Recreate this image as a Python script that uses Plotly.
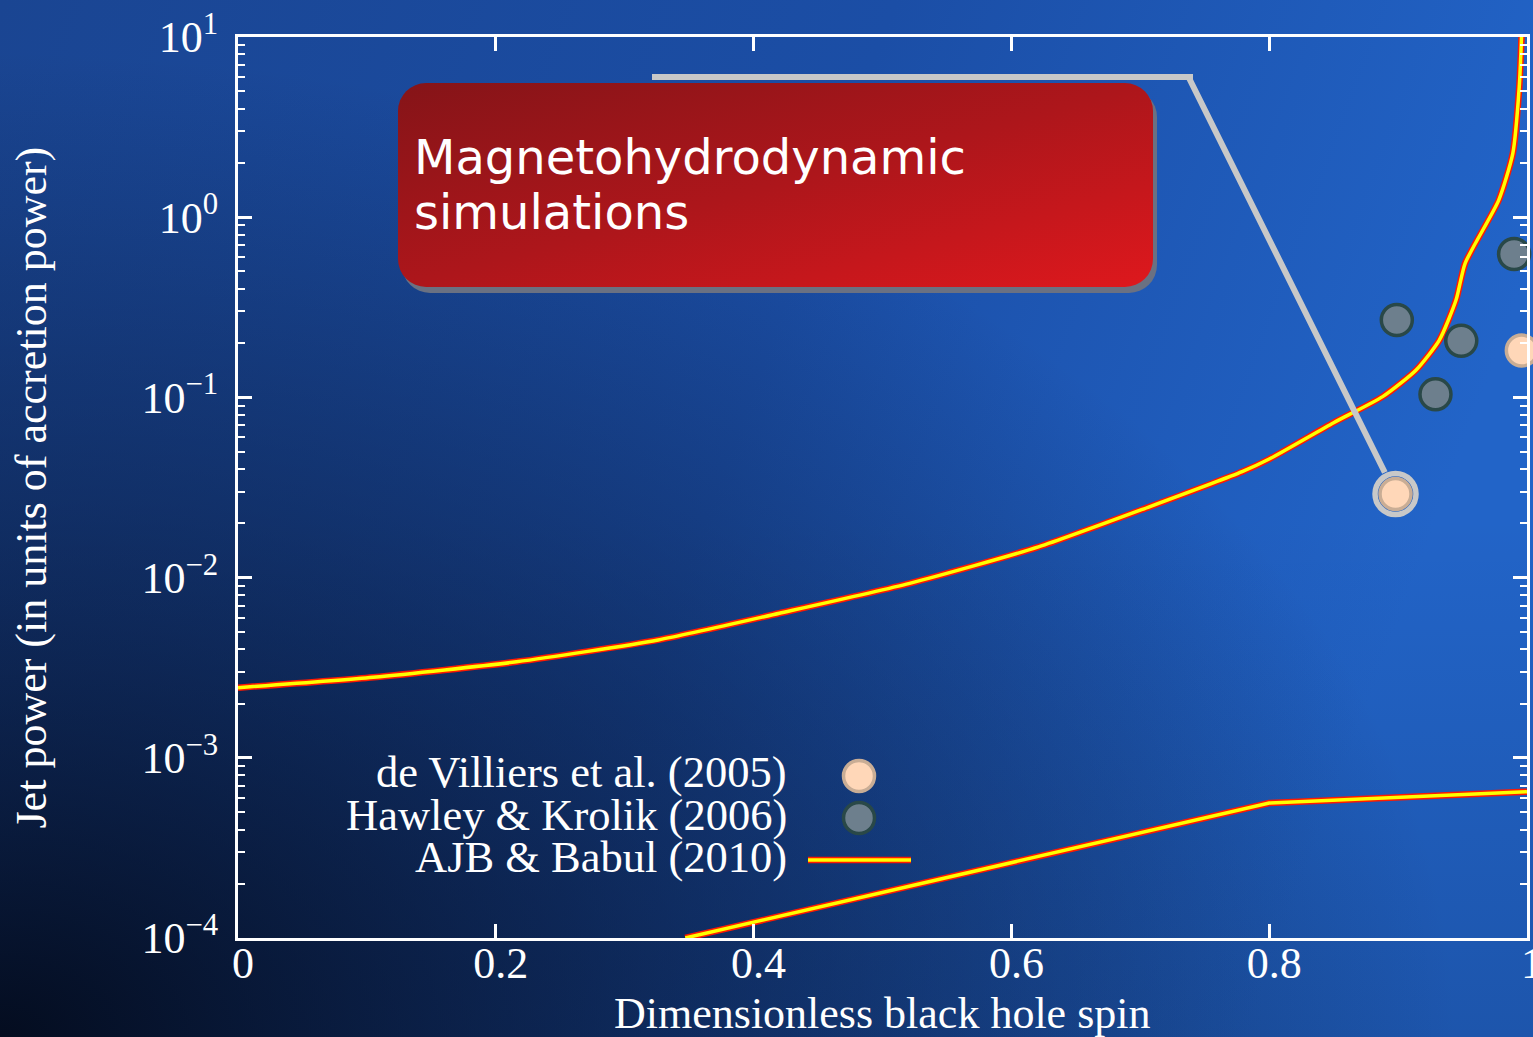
import base64
import math
import plotly.graph_objects as go

# ---- data -------------------------------------------------------------
# AJB & Babul (2010): upper branch
ajb_upper_spin = [0.000, 0.105, 0.216, 0.326, 0.420, 0.521, 0.621, 0.707, 0.779,
                  0.800, 0.850, 0.888, 0.914, 0.932, 0.945, 0.952, 0.978, 0.989,
                  0.994, 0.996]
ajb_upper_power = [0.00245, 0.00280, 0.00341, 0.00451, 0.00634, 0.00929, 0.0148,
                   0.0247, 0.0387, 0.0455, 0.0724, 0.101, 0.142, 0.208, 0.348,
                   0.555, 1.24, 2.26, 5.30, 11.2]
# AJB & Babul (2010): lower branch
ajb_lower_spin = [0.347, 0.800, 1.000]
ajb_lower_power = [1.0e-4, 5.61e-4, 6.49e-4]

# de Villiers et al. (2005)
dv_spin = [0.898, 0.996]
dv_power = [0.0291, 0.182]

# Hawley & Krolik (2006)
hk_spin = [0.899, 0.929, 0.949, 0.990]
hk_power = [0.269, 0.104, 0.206, 0.625]

x_ticks = [0, 0.2, 0.4, 0.6, 0.8, 1.0]
x_tick_text = ["0", "0.2", "0.4", "0.6", "0.8", "1"]
y_ticks = [1e-4, 1e-3, 1e-2, 1e-1, 1, 10]
y_tick_text = ["10<sup>\u22124</sup>", "10<sup>\u22123</sup>", "10<sup>\u22122</sup>",
               "10<sup>\u22121</sup>", "10<sup>0</sup>", "10<sup>1</sup>"]

legend_labels = ["de Villiers et al. (2005)", "Hawley & Krolik (2006)", "AJB & Babul (2010)"]
box_lines = ["Magnetohydrodynamic", "simulations"]

# ---- page geometry ----------------------------------------------------
W, H = 1533, 1037
ML, MR, MT, MB = 238, 6, 37, 99
PW, PH = W - ML - MR, H - MT - MB


def px(X):
    return (X - ML) / PW


def py(Y):
    return 1 - (Y - MT) / PH


def svg_uri(svg):
    return "data:image/svg+xml;base64," + base64.b64encode(svg.encode()).decode()


SERIF = "Liberation Serif, Times New Roman, serif"
SANS = "DejaVu Sans, Verdana, sans-serif"

bg_svg = f"""<svg xmlns='http://www.w3.org/2000/svg' width='{W}' height='{H}' viewBox='0 0 {W} {H}' preserveAspectRatio='none'>
<defs>
<linearGradient id='base' x1='0' y1='0' x2='1' y2='0.25'>
<stop offset='0' stop-color='#1a4592'/>
<stop offset='0.55' stop-color='#1b4ea6'/>
<stop offset='1' stop-color='#2264c8'/>
</linearGradient>
<linearGradient id='low' x1='0' y1='0' x2='0' y2='1'>
<stop offset='0.5' stop-color='#06122c' stop-opacity='0'/>
<stop offset='1' stop-color='#06122c' stop-opacity='0.18'/>
</linearGradient>
<radialGradient id='shade' cx='0' cy='1' r='0.95'>
<stop offset='0' stop-color='#030a1a' stop-opacity='0.95'/>
<stop offset='0.45' stop-color='#06122c' stop-opacity='0.55'/>
<stop offset='1' stop-color='#06122c' stop-opacity='0'/>
</radialGradient>
</defs>
<rect width='{W}' height='{H}' fill='url(#base)'/>
<rect width='{W}' height='{H}' fill='url(#low)'/>
<rect width='{W}' height='{H}' fill='url(#shade)'/>
</svg>"""

# rounded red label box with drop shadow
BX0, BY0, BW, BH = 396, 80, 766, 216
box_svg = f"""<svg xmlns='http://www.w3.org/2000/svg' width='{BW}' height='{BH}' viewBox='0 0 {BW} {BH}'>
<defs>
<linearGradient id='red' x1='0' y1='0' x2='1' y2='1'>
<stop offset='0' stop-color='#851418'/>
<stop offset='0.5' stop-color='#ad161b'/>
<stop offset='1' stop-color='#de181d'/>
</linearGradient>
</defs>
<rect x='6' y='9' width='755' height='204' rx='28' ry='28' fill='#6a7182'/>
<rect x='2' y='3' width='755' height='204' rx='28' ry='28' fill='url(#red)'/>
</svg>"""

fig = go.Figure()

# yellow line with a red rim: red underlay, yellow core
branches = [(ajb_upper_spin, ajb_upper_power, "spline"),
            (ajb_lower_spin, ajb_lower_power, "linear")]
for xs, ys, shape in branches:
    fig.add_trace(go.Scatter(x=xs, y=ys, mode="lines",
                             line=dict(color="#ff1a00", width=6.5, shape=shape, smoothing=0.6),
                             hoverinfo="skip"))
    fig.add_trace(go.Scatter(x=xs, y=ys, mode="lines",
                             line=dict(color="#ffff00", width=3.5, shape=shape, smoothing=0.6),
                             name=legend_labels[2]))

# highlight ring around the first de Villiers point
fig.add_trace(go.Scatter(x=dv_spin[:1], y=dv_power[:1], mode="markers", cliponaxis=False,
                         marker=dict(symbol="circle-open", size=41, color="#c8c8c8",
                                     line=dict(width=5.5)), hoverinfo="skip"))

fig.add_trace(go.Scatter(x=hk_spin, y=hk_power, mode="markers", cliponaxis=False,
                         name=legend_labels[1],
                         marker=dict(size=31, color="#6d7f8d",
                                     line=dict(color="#294848", width=3.5))))
fig.add_trace(go.Scatter(x=dv_spin, y=dv_power, mode="markers", cliponaxis=False,
                         name=legend_labels[0],
                         marker=dict(size=31, color="#ffd7b8",
                                     line=dict(color="#c9ad95", width=3.5))))

axis_common = dict(
    showline=True, linewidth=3, linecolor="white", mirror="allticks",
    ticks="inside", ticklen=14, tickwidth=2.5, tickcolor="white",
    showgrid=False, zeroline=False, automargin=False,
    tickfont=dict(family=SERIF, size=44, color="white"),
)

fig.update_xaxes(range=[0, 1], tickvals=x_ticks, ticktext=x_tick_text,
                 ticklabelstandoff=-16, ticklabelshift=5, ticklabeloverflow="allow",
                 **axis_common)
fig.update_yaxes(type="log", range=[-4, 1], tickvals=y_ticks, ticktext=y_tick_text,
                 ticklabelstandoff=8,
                 minor=dict(ticks="inside", ticklen=7, tickwidth=2, tickcolor="white",
                            dtick="D1", showgrid=False),
                 **axis_common)

shapes = []
annotations = []

# callout: horizontal leg, then a leader onto the highlighted point
shapes.append(dict(type="line", xref="paper", yref="paper",
                   x0=px(652), x1=px(1193), y0=py(77), y1=py(77),
                   line=dict(color="#c8c8c8", width=6)))
annotations.append(dict(x=dv_spin[0], y=math.log10(dv_power[0]), xref="x", yref="y",
                        text="", showarrow=True, arrowhead=0, arrowwidth=6,
                        arrowcolor="#c8c8c8", ax=-207, ay=-417, standoff=24))

for i, line in enumerate(box_lines):
    annotations.append(dict(x=px(412), y=py(157 + 55 * i), xref="paper", yref="paper",
                            xanchor="left", yanchor="middle", showarrow=False,
                            text=line, font=dict(family=SANS, size=48, color="white")))

# legend: right-aligned labels with swatches to their right
text_y = [772, 815, 857]
mark_y = [776, 818, 860]
for label, yy in zip(legend_labels, text_y):
    annotations.append(dict(x=px(789), y=py(yy), xref="paper", yref="paper",
                            xanchor="right", yanchor="middle", showarrow=False,
                            text=label, font=dict(family=SERIF, size=44.5, color="white")))
for yy, fill, edge in [(mark_y[0], "#ffd7b8", "#c9ad95"), (mark_y[1], "#6d7f8d", "#294848")]:
    shapes.append(dict(type="circle", xref="paper", yref="paper",
                       xsizemode="pixel", ysizemode="pixel",
                       xanchor=px(859), yanchor=py(yy), x0=-15.5, x1=15.5, y0=-15.5, y1=15.5,
                       fillcolor=fill, line=dict(color=edge, width=3.5)))
for color, width in [("#ff1a00", 6.5), ("#ffff00", 3.5)]:
    shapes.append(dict(type="line", xref="paper", yref="paper",
                       x0=px(808), x1=px(911), y0=py(mark_y[2]), y1=py(mark_y[2]),
                       line=dict(color=color, width=width)))

# axis titles
annotations.append(dict(x=0.5, y=py(1013), xref="paper", yref="paper",
                        xanchor="center", yanchor="middle", showarrow=False,
                        text="Dimensionless black hole spin",
                        font=dict(family=SERIF, size=44, color="white")))
annotations.append(dict(x=px(31), y=0.5, xref="paper", yref="paper",
                        xanchor="center", yanchor="middle", showarrow=False, textangle=-90,
                        text="Jet power (in units of accretion power)",
                        font=dict(family=SERIF, size=44, color="white")))

images = [
    dict(source=svg_uri(bg_svg), xref="paper", yref="paper",
         x=px(0), y=py(0), sizex=W / PW, sizey=H / PH,
         xanchor="left", yanchor="top", sizing="stretch", layer="below"),
    dict(source=svg_uri(box_svg), xref="paper", yref="paper",
         x=px(BX0), y=py(BY0), sizex=BW / PW, sizey=BH / PH,
         xanchor="left", yanchor="top", sizing="stretch", layer="above"),
]

fig.update_layout(
    width=W, height=H,
    margin=dict(l=ML, r=MR, t=MT, b=MB, pad=0, autoexpand=False),
    paper_bgcolor="#12306a", plot_bgcolor="rgba(0,0,0,0)",
    showlegend=False,
    font=dict(family=SERIF, color="white", size=44),
    shapes=shapes, annotations=annotations, images=images,
)

fig.write_html("out.html")
